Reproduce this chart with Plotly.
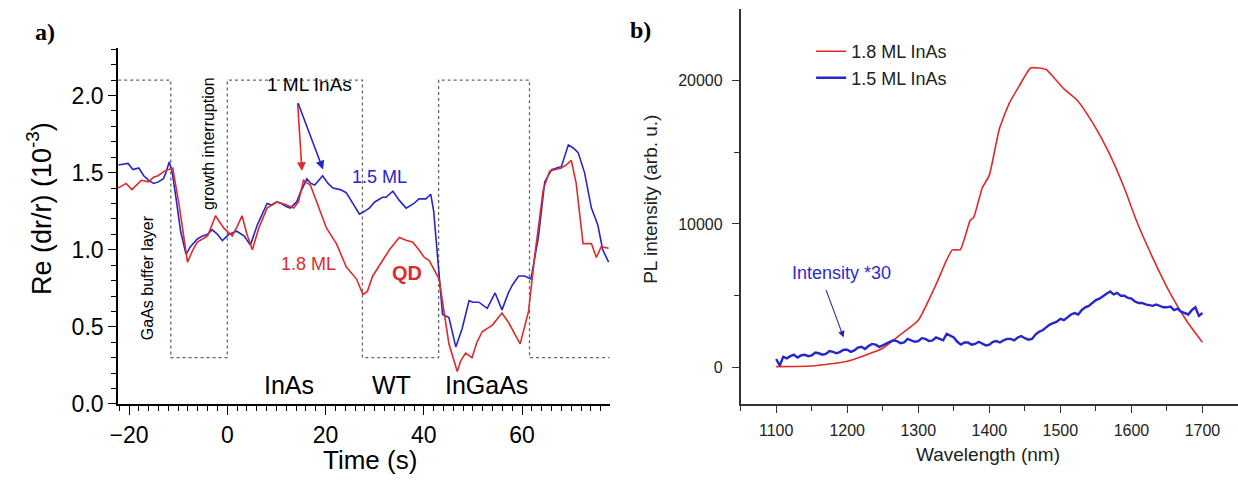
import plotly.graph_objects as go

# ---------------- Panel a) data ----------------
t_blue = [-22.2, -20.2, -19.2, -18, -17, -16, -15, -14, -13, -12.5, -11.8, -11.2, -10.5, -9.5, -8.4,
          -7.5, -6.1, -5, -4, -3.1, -2, -1, 0.3, 1.9, 3.4, 4.7, 6.1, 7, 8.1, 9, 10.1, 11, 12, 12.8,
          14.1, 15, 16.2, 17, 17.8, 19.4, 20.5, 21.5, 23, 24.2, 25.5, 26.9, 28, 28.9, 30, 31.6, 32.3,
          33.7, 35, 36.4, 38, 39, 40.4, 41.4, 42, 42.8, 43.8, 45.1, 46.5, 47.8, 49.2, 50, 51.2, 52.9,
          54.5, 55.9, 57.2, 58, 59.3, 60.5, 61.8, 63.3, 64.6, 66, 67, 68, 69.4, 70.4, 71.4, 72.7,
          74.1, 75.4, 76.4, 77.6]
v_blue = [1.55, 1.56, 1.52, 1.53, 1.48, 1.45, 1.43, 1.44, 1.46, 1.50, 1.57, 1.50, 1.35, 1.12, 0.97,
          1.02, 1.07, 1.09, 1.10, 1.13, 1.10, 1.06, 1.10, 1.12, 1.09, 1.03, 1.16, 1.22, 1.30, 1.29, 1.31,
          1.30, 1.28, 1.27, 1.31, 1.38, 1.46, 1.43, 1.42, 1.48, 1.43, 1.40, 1.39, 1.37, 1.30, 1.23, 1.25,
          1.27, 1.31, 1.34, 1.34, 1.38, 1.32, 1.27, 1.30, 1.33, 1.33, 1.36, 1.25, 0.975, 0.58, 0.56,
          0.37, 0.49, 0.67, 0.66, 0.66, 0.62, 0.72, 0.61, 0.72, 0.77, 0.83, 0.83, 0.81, 1.08, 1.44,
          1.52, 1.53, 1.54, 1.68, 1.66, 1.63, 1.50, 1.27, 1.16, 1.00, 0.92]

t_red = [-22.2, -20.6, -19.4, -18.5, -17.5, -16, -15, -14.1, -12.8, -11.1, -9.8, -8.1, -7, -6.1, -4,
         -3, -2.4, -0.7, 1, 2, 3, 4, 5.1, 6.4, 8.1, 10.1, 12.1, 13.5, 14.5, 15.5, 16.9, 18.2, 20.2,
         22.2, 24.2, 26.3, 27.6, 28.5, 29.6, 31.6, 33, 35, 36.5, 37.7, 39, 40.1, 41.1, 43.1, 44, 45.1,
         46.8, 47.5, 48.5, 49.8, 50.8, 51.9, 53.9, 55.9, 57.2, 58.5, 59.6, 61.3, 62.6, 64.3, 65.6, 68,
         69, 70, 71, 72.4, 74.1, 75.1, 76.1, 77.6]
v_red = [1.40, 1.43, 1.39, 1.42, 1.45, 1.44, 1.47, 1.48, 1.51, 1.53, 1.29, 0.92, 1.00, 1.05, 1.09,
         1.17, 1.22, 1.14, 1.09, 1.15, 1.22, 1.10, 1.00, 1.14, 1.27, 1.31, 1.29, 1.27, 1.31, 1.45, 1.42,
         1.31, 1.14, 1.04, 0.89, 0.81, 0.71, 0.73, 0.83, 0.93, 1.00, 1.08, 1.06, 1.05, 1.00, 0.95, 0.93,
         0.81, 0.62, 0.39, 0.21, 0.28, 0.33, 0.30, 0.40, 0.47, 0.51, 0.59, 0.53, 0.45, 0.39, 0.60, 0.97,
         1.39, 1.51, 1.53, 1.55, 1.58, 1.43, 1.04, 1.04, 0.95, 1.02, 1.01]

# growth-step indicator (dotted square wave)
step_t = [-22.2, -11.5, 0, 27.5, 43, 61.5, 77.8]
step_v = [2.1, 0.3, 2.1, 0.3, 2.1, 0.3, 0.3]

# ---------------- Panel b) data ----------------
wl_red = [1100, 1150, 1200, 1250, 1275, 1300, 1326, 1340, 1348, 1359, 1373, 1378, 1390, 1400, 1414,
          1428, 1442, 1458, 1469, 1480, 1491, 1505, 1524, 1546, 1568, 1590, 1607, 1629, 1656, 1678, 1700]
pl_red = [70, 110, 450, 1350, 2300, 3300, 5900, 7500, 8200, 8200, 10240, 10460, 12500, 13400, 16600,
          18400, 19600, 20860, 20860, 20750, 20180, 19400, 18600, 17000, 15000, 12500, 10240, 7750,
          5040, 3230, 1760]

wl_blue = [1100, 1105, 1110, 1115, 1120, 1125, 1130, 1135, 1140, 1145, 1150, 1155, 1160, 1165, 1170,
           1175, 1180, 1185, 1190, 1195, 1200, 1205, 1210, 1215, 1220, 1225, 1230, 1235, 1240, 1245,
           1250, 1255, 1260, 1265, 1270, 1275, 1280, 1285, 1290, 1295, 1300, 1305, 1310, 1315, 1320,
           1325, 1330, 1335, 1340, 1345, 1350, 1355, 1360, 1365, 1370, 1375, 1380, 1385, 1390, 1395,
           1400, 1405, 1410, 1415, 1420, 1425, 1430, 1435, 1440, 1445, 1450, 1455, 1460, 1465, 1470,
           1475, 1480, 1485, 1490, 1495, 1500, 1505, 1510, 1515, 1520, 1525, 1530, 1535, 1540, 1545,
           1550, 1555, 1560, 1565, 1570, 1575, 1580, 1585, 1590, 1595, 1600, 1605, 1610, 1615, 1620,
           1625, 1630, 1635, 1640, 1645, 1650, 1655, 1660, 1665, 1670, 1675, 1680, 1685, 1690, 1695, 1700]
pl_blue = [600, 150, 750, 650, 800, 900, 700, 850, 900, 800, 850, 1050, 1000, 900, 950,
           1150, 1100, 1000, 1100, 1250, 1250, 1100, 1200, 1400, 1450, 1300, 1500, 1650, 1600, 1450,
           1550, 1700, 1800, 1900, 1850, 1700, 1750, 2000, 1900, 1800, 1850, 2050, 2000, 1850, 1900,
           2100, 2000, 1900, 2350, 2200, 2100, 1800, 1600, 1750, 1750, 1600, 1650, 1800, 1700, 1550,
           1600, 1800, 1850, 1750, 1900, 2000, 2000, 1900, 2100, 2200, 2050, 1950, 2000, 2300, 2500,
           2600, 2800, 3000, 3100, 3200, 3400, 3300, 3500, 3700, 3800, 3700, 4000, 4200, 4300, 4500,
           4700, 4800, 5000, 5150, 5300, 5100, 5200, 5000, 5000, 4850, 4800, 4600, 4500, 4500, 4400,
           4350, 4300, 4400, 4300, 4200, 4200, 4250, 4000, 4100, 3900, 3800, 3700, 4000, 4200, 3600, 3800]

RED = "#e02a2a"
BLUE = "#2626cc"
FONT = "Liberation Sans"

fig = go.Figure()

fig.add_trace(go.Scatter(x=step_t, y=step_v, mode="lines", line=dict(color="#666666", width=1.3, dash="dot", shape="hv"),
                         showlegend=False, xaxis="x", yaxis="y", hoverinfo="skip"))
fig.add_trace(go.Scatter(x=t_blue, y=v_blue, mode="lines", line=dict(color=BLUE, width=1.6),
                         showlegend=False, xaxis="x", yaxis="y"))
fig.add_trace(go.Scatter(x=t_red, y=v_red, mode="lines", line=dict(color=RED, width=1.6),
                         showlegend=False, xaxis="x", yaxis="y"))

fig.add_trace(go.Scatter(x=wl_red, y=pl_red, mode="lines", name="1.8 ML InAs",
                         line=dict(color=RED, width=1.6, shape="spline", smoothing=0.5),
                         xaxis="x2", yaxis="y2"))
fig.add_trace(go.Scatter(x=wl_blue, y=pl_blue, mode="lines", name="1.5 ML InAs",
                         line=dict(color=BLUE, width=2.4),
                         xaxis="x2", yaxis="y2"))

ann = []
def txt(text, x, y, size, color="black", xref="x", yref="y", angle=0, bold=False, family=FONT):
    ann.append(dict(text=(f"<b>{text}</b>" if bold else text), x=x, y=y, xref=xref, yref=yref, showarrow=False,
                    textangle=angle, font=dict(family=family, size=size, color=color),
                    xanchor="center", yanchor="middle"))

# panel a) labels
txt("1 ML InAs", 16.7, 2.07, 19)
txt("1.5 ML", 31, 1.47, 18, BLUE)
txt("1.8 ML", 16.5, 0.91, 18, RED)
txt("QD", 36.5, 0.85, 20, RED, bold=True)
txt("GaAs buffer layer", -16.2, 0.82, 16, angle=-90)
txt("growth interruption", -3.8, 1.69, 16, angle=-90)
txt("InAs", 12.5, 0.126, 25)
txt("WT", 33.5, 0.126, 25)
txt("InGaAs", 52.7, 0.12, 25)
# arrows
ann.append(dict(x=15.2, y=1.51, ax=14.3, ay=1.96, xref="x", yref="y", axref="x", ayref="y",
                showarrow=True, arrowcolor=RED, arrowwidth=1.6, arrowhead=2, arrowsize=1.1, text=""))
ann.append(dict(x=19.5, y=1.52, ax=14.3, ay=1.96, xref="x", yref="y", axref="x", ayref="y",
                showarrow=True, arrowcolor=BLUE, arrowwidth=1.6, arrowhead=2, arrowsize=1.1, text=""))

# panel b) labels
txt("Intensity *30", 1192, 6600, 18, "#2a2ad0", xref="x2", yref="y2")
ann.append(dict(x=1195, y=2100, ax=1169.5, ay=5500, xref="x2", yref="y2", axref="x2", ayref="y2",
                showarrow=True, arrowcolor="#2a2a9a", arrowwidth=1.1, arrowhead=2, arrowsize=1.2, text=""))

# axis titles (as paper annotations for precise placement)
txt("Re (dr/r) (10<sup>-3</sup>)", 31 / 1238, 1 - 214 / 490, 27, xref="paper", yref="paper", angle=-90)
txt("Time (s)", 364 / 1238, 1 - 473 / 490, 26, xref="paper", yref="paper")
txt("PL intensity (arb. u.)", 646 / 1238, 1 - 205 / 490, 19, "#222222", xref="paper", yref="paper", angle=-90)
txt("Wavelength (nm)", 986 / 1238, 1 - 467 / 490, 19, "#222222", xref="paper", yref="paper")
# panel letters
txt("a)", 36 / 1238, 1 - 33 / 490, 24, xref="paper", yref="paper", bold=True, family="Liberation Serif")
txt("b)", 636 / 1238, 1 - 31 / 490, 24, xref="paper", yref="paper", bold=True, family="Liberation Serif")

fig.update_layout(
    width=1238, height=490, margin=dict(l=0, r=0, t=0, b=0),
    paper_bgcolor="white", plot_bgcolor="white",
    font=dict(family=FONT, color="black"),
    annotations=ann,
    legend=dict(x=808 / 1238, y=1 - 34 / 490, xanchor="left", yanchor="top", bgcolor="rgba(0,0,0,0)",
                font=dict(family=FONT, size=18, color="#222222"), tracegroupgap=0),
    xaxis=dict(domain=[110 / 1238, 605 / 1238], range=[-22.2, 77.8], anchor="y",
               showline=True, linecolor="black", linewidth=2, showgrid=False, zeroline=False,
               ticks="outside", ticklen=9, tickwidth=1.3, tickcolor="black", dtick=20, tick0=0,
               tickfont=dict(size=23, color="black"),
               minor=dict(ticks="outside", ticklen=5, dtick=2, tick0=0, tickcolor="black", tickwidth=1)),
    yaxis=dict(domain=[1 - 415 / 490, 1 - 49 / 490], range=[0, 2.31], anchor="x",
               showline=True, linecolor="black", linewidth=2, showgrid=False, zeroline=False,
               ticks="outside", ticklen=8, tickwidth=1.3, tickcolor="black", dtick=0.5, tick0=0,
               tickformat=".1f", tickfont=dict(size=23, color="black"),
               minor=dict(ticks="outside", ticklen=5, dtick=0.1, tick0=0, tickcolor="black", tickwidth=1)),
    xaxis2=dict(domain=[737 / 1238, 1.0], range=[1050, 1750], anchor="y2",
                showline=True, linecolor="#333333", linewidth=1.6, showgrid=False, zeroline=False,
                ticks="outside", ticklen=7, tickwidth=1.2, tickcolor="#333333", dtick=100, tick0=1100,
                tickfont=dict(size=16, color="#222222"), ticklabelstandoff=4,
                minor=dict(ticks="outside", ticklen=5, dtick=50, tick0=1050, tickcolor="#333333", tickwidth=1)),
    yaxis2=dict(domain=[1 - 415 / 490, 1 - 9 / 490], range=[-2530, 24980], anchor="x2",
                showline=True, linecolor="#333333", linewidth=1.6, showgrid=False, zeroline=False,
                ticks="outside", ticklen=7, tickwidth=1.2, tickcolor="#333333", dtick=10000, tick0=0,
                tickformat="d", tickfont=dict(size=16, color="#222222"), ticklabelstandoff=6,
                minor=dict(ticks="outside", ticklen=5, dtick=5000, tick0=0, tickcolor="#333333", tickwidth=1)),
)

fig.write_html("out.html", config={"displayModeBar": False},
               post_script="document.body.style.margin='0';document.body.style.overflow='hidden';")
